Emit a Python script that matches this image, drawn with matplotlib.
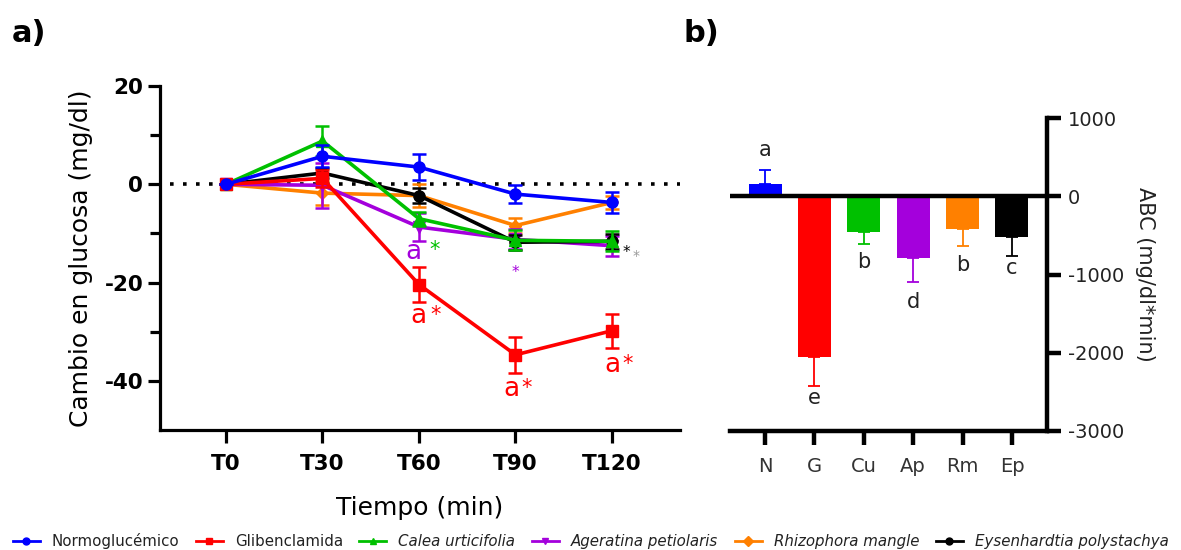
import matplotlib
matplotlib.use("Agg")
import matplotlib.pyplot as plt
from matplotlib.lines import Line2D
import numpy as np

# ---------------- data ----------------
times = ["T0", "T30", "T60", "T90", "T120"]
groups = ["Normoglucémico", "Glibenclamida", "Calea urticifolia",
          "Ageratina petiolaris", "Rhizophora mangle", "Eysenhardtia polystachya"]
italic_groups = [False, False, True, True, True, True]
colors = ["#0000FF", "#FF0000", "#00C000", "#A400DC", "#FF8000", "#000000"]
markers = ["o", "s", "^", "v", "D", "o"]

normo_mean = [0, 5.7, 3.5, -2.0, -3.7]
normo_err = [0, 2.2, 2.7, 1.9, 2.2]
glib_mean = [0, 1.2, -20.4, -34.7, -29.8]
glib_err = [0, 1.8, 3.6, 3.7, 3.5]
calea_mean = [0, 8.8, -7.0, -11.4, -11.6]
calea_err = [0, 3.1, 1.4, 2.0, 2.0]
ager_mean = [0, -0.2, -8.7, -11.2, -12.5]
ager_err = [0, 4.6, 2.8, 2.0, 2.0]
rhizo_mean = [0, -1.8, -2.3, -8.4, -3.7]
rhizo_err = [0, 2.4, 2.3, 1.5, 1.4]
eysen_mean = [0, 2.3, -2.3, -11.8, -11.6]
eysen_err = [0, 1.0, 1.5, 1.5, 1.5]

series_means = [normo_mean, glib_mean, calea_mean, ager_mean, rhizo_mean, eysen_mean]
series_errs = [normo_err, glib_err, calea_err, ager_err, rhizo_err, eysen_err]
series_z = [8, 7, 6, 4, 3, 5]

# significance annotations in panel a: (x index, y, text, color, size)
annot_a = [
    (1.94, -13.7, "a", "#A400DC", 19),
    (2.16, -13.3, "*", "#00C000", 15),
    (1.99, -26.9, "a", "#FF0000", 19),
    (2.17, -26.7, "*", "#FF0000", 15),
    (2.96, -41.6, "a", "#FF0000", 19),
    (3.12, -41.4, "*", "#FF0000", 15),
    (4.01, -36.7, "a", "#FF0000", 19),
    (4.16, -36.5, "*", "#FF0000", 15),
    (3.00, -17.9, "*", "#A400DC", 11),
    (4.15, -13.8, "*", "#000000", 11),
    (4.245, -14.6, "*", "#999999", 10),
]

bar_labels = ["N", "G", "Cu", "Ap", "Rm", "Ep"]
bar_values = [160, -2060, -460, -790, -420, -520]
bar_errs = [170, 360, 150, 310, 220, 240]
bar_letters = ["a", "e", "b", "d", "b", "c"]
bar_letter_y = [590, -2580, -840, -1350, -880, -920]

# ---------------- figure ----------------
fig = plt.figure(figsize=(11.81, 5.5), dpi=100)
plt.rcParams['font.family'] = ['DejaVu Sans']

# ---- panel a ----
axa = fig.add_axes([160/1181, 1-430/550, 520/1181, 344/550])
x = np.arange(len(times))
axa.plot([-0.58, 4.705], [0, 0], linestyle=(0, (1, 2.6)), color="black", lw=2.6, zorder=1)
for m, e, c, mk, z in zip(series_means, series_errs, colors, markers, series_z):
    ms = 6.5 if mk == "D" else 8
    axa.errorbar(x, m, yerr=e, color=c, marker=mk, markersize=ms, lw=2.6,
                 elinewidth=1.8, capsize=5, capthick=1.8, zorder=z)
for xx, yy, t, c, s in annot_a:
    axa.text(xx, yy, t, color=c, fontsize=s, ha="center", va="center", zorder=10)

axa.set_xlim(-0.684, 4.705)
axa.set_ylim(-50, 20)
axa.set_xticks(x)
axa.set_xticklabels(times, fontweight="bold", fontsize=15.5)
axa.set_yticks([-40, -20, 0, 20])
axa.set_yticks([-30, -10, 10], minor=True)
axa.set_yticklabels(["-40", "-20", "0", "20"], fontweight="bold", fontsize=15.5)
for s in ["top", "right"]:
    axa.spines[s].set_visible(False)
for s in ["left", "bottom"]:
    axa.spines[s].set_linewidth(2.3)
axa.tick_params(axis="both", which="major", length=9, width=2.3, direction="out")
axa.tick_params(axis="y", which="minor", length=7, width=2.3, direction="out")
axa.tick_params(axis="x", pad=8)
axa.tick_params(axis="y", pad=3)
axa.set_xlabel("Tiempo (min)", fontsize=18, labelpad=16)
axa.set_ylabel("Cambio en glucosa (mg/dl)", fontsize=18, labelpad=8)

# ---- panel b ----
axb = fig.add_axes([730/1181, 1-431/550, 317/1181, 313/550])
xb = np.arange(len(bar_labels))
for i in range(len(bar_labels)):
    v = bar_values[i]
    axb.bar(xb[i], v, width=0.67, color=colors[i], zorder=2)
    sign = 1 if v >= 0 else -1
    axb.errorbar(xb[i], v, yerr=[[0], [bar_errs[i]]] if sign > 0 else [[bar_errs[i]], [0]],
                 color=colors[i], lw=0, elinewidth=1.3, capsize=4, capthick=1.3, zorder=3)
    axb.text(xb[i], bar_letter_y[i], bar_letters[i], ha="center", va="center",
             fontsize=15, color="#222222")
axb.axhline(0, xmin=0.006, xmax=1, color="black", lw=3.2, zorder=4)
axb.set_xlim(-0.71, 5.71)
axb.set_ylim(-3000, 1000)
axb.set_yticks([-3000, -2000, -1000, 0, 1000])
axb.set_yticklabels(["-3000", "-2000", "-1000", "0", "1000"], fontsize=14)
axb.set_xticks(xb)
axb.set_xticklabels(bar_labels, fontsize=14, color="#333333")
axb.yaxis.tick_right()
axb.yaxis.set_label_position("right")
for s in ["top", "left"]:
    axb.spines[s].set_visible(False)
for s in ["right", "bottom"]:
    axb.spines[s].set_linewidth(3.2)
axb.tick_params(axis="both", length=10, width=3.2, direction="out")
axb.tick_params(axis="x", pad=9)
axb.tick_params(axis="y", pad=5)
for lab in axb.get_yticklabels():
    lab.set_color("#222222")
axb.set_ylabel("ABC (mg/dl*min)", fontsize=15, rotation=270, labelpad=22, color="#222222")

# ---- panel letters ----
fig.text(12/1181, 1-34/550, "a)", fontsize=22, fontweight="bold", va="center", ha="left")
fig.text(684/1181, 1-34/550, "b)", fontsize=22, fontweight="bold", va="center", ha="left")

# ---- legend ----
handles = [Line2D([0], [0], color=c, marker=mk, markersize=5, lw=2) for c, mk in zip(colors, markers)]
leg = fig.legend(handles, groups, loc="center", bbox_to_anchor=(0.5, 0.016), ncol=6,
                 frameon=False, fontsize=10.8, handlelength=1.8, handletextpad=0.8,
                 columnspacing=1.1)
for t, it in zip(leg.get_texts(), italic_groups):
    if it:
        t.set_style("italic")
    t.set_color("#222222")

fig.savefig("out.png", dpi=100)
